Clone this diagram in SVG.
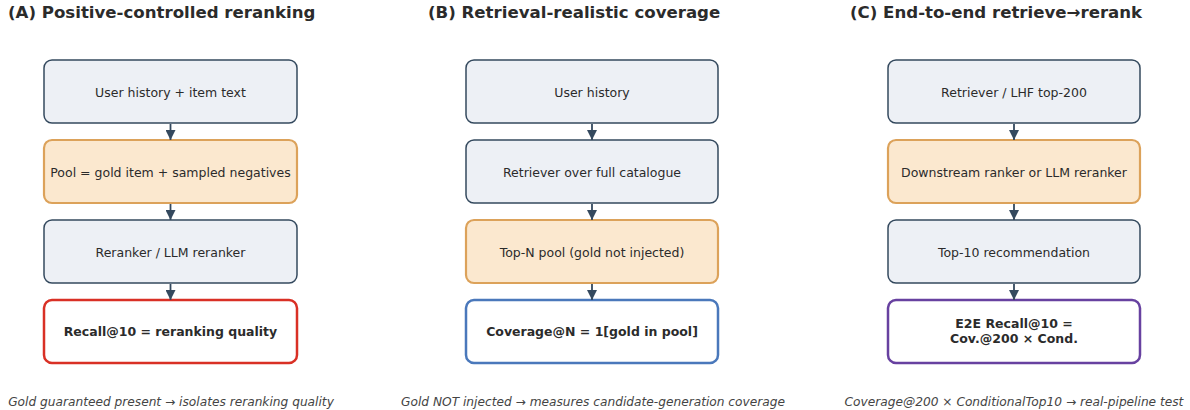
<svg xmlns="http://www.w3.org/2000/svg" width="1190" height="410" viewBox="0 0 1190 410">
<defs>
<marker id="ah" viewBox="0 0 10 10" refX="10" refY="5" markerWidth="10" markerHeight="10" markerUnits="userSpaceOnUse" orient="auto">
<path d="M0,0 L10,5 L0,10 z" fill="#34495e"/>
</marker>
</defs>
<style>
text{font-family:"DejaVu Sans","Liberation Sans",sans-serif;fill:#2b2b2b}
.title{font-size:16.6px;font-weight:bold}
.lbl{font-size:12.5px;text-anchor:middle;dominant-baseline:central}
.bold{font-size:12.5px;font-weight:bold;text-anchor:middle}
.cap{font-size:12.2px;font-style:italic;text-anchor:middle;fill:#444}
.n{fill:#edf0f5;stroke:#34495e;stroke-width:1.5}
.o{fill:#fbe8cf;stroke:#dca25a;stroke-width:2.2}
.r{fill:#fff;stroke:#d93025;stroke-width:2.5}
.b{fill:#fff;stroke:#4a78bb;stroke-width:2.5}
.p{fill:#fff;stroke:#6741a0;stroke-width:2.5}
.c{stroke:#34495e;stroke-width:1.8;fill:none}
</style>
<text class="title" x="8" y="18">(A) Positive-controlled reranking</text>
<text class="title" x="428" y="18">(B) Retrieval-realistic coverage</text>
<text class="title" x="850" y="18">(C) End-to-end retrieve→rerank</text>

<g id="a1"><rect class="n" x="44" y="60" width="253" height="63" rx="8"/><text class="lbl" x="170.5" y="92">User history + item text</text></g>
<g id="a2"><rect class="o" x="44" y="140" width="253" height="63" rx="8"/><text class="lbl" x="170.5" y="172">Pool = gold item + sampled negatives</text></g>
<g id="a3"><rect class="n" x="44" y="220" width="253" height="63" rx="8"/><text class="lbl" x="170.5" y="252">Reranker / LLM reranker</text></g>
<g id="a4"><rect class="r" x="44" y="300" width="253" height="63" rx="8"/><text class="bold" x="170.5" y="336">Recall@10 = reranking quality</text></g>

<g id="b1"><rect class="n" x="466" y="60" width="252" height="63" rx="8"/><text class="lbl" x="592" y="92">User history</text></g>
<g id="b2"><rect class="n" x="466" y="140" width="252" height="63" rx="8"/><text class="lbl" x="592" y="172">Retriever over full catalogue</text></g>
<g id="b3"><rect class="o" x="466" y="220" width="252" height="63" rx="8"/><text class="lbl" x="592" y="252">Top-N pool (gold not injected)</text></g>
<g id="b4"><rect class="b" x="466" y="300" width="252" height="63" rx="8"/><text class="bold" x="592" y="336">Coverage@N = 1[gold in pool]</text></g>

<g id="c1"><rect class="n" x="888" y="60" width="252" height="63" rx="8"/><text class="lbl" x="1014" y="92">Retriever / LHF top-200</text></g>
<g id="c2"><rect class="o" x="888" y="140" width="252" height="63" rx="8"/><text class="lbl" x="1014" y="172">Downstream ranker or LLM reranker</text></g>
<g id="c3"><rect class="n" x="888" y="220" width="252" height="63" rx="8"/><text class="lbl" x="1014" y="252">Top-10 recommendation</text></g>
<g id="c4"><rect class="p" x="888" y="300" width="252" height="63" rx="8"/><text class="bold" x="1014" y="328">E2E Recall@10 =</text><text class="bold" x="1014" y="343">Cov.@200 × Cond.</text></g>

<g id="connectors">
<line class="c" x1="170.5" y1="124" x2="170.5" y2="140" marker-end="url(#ah)"/>
<line class="c" x1="170.5" y1="204" x2="170.5" y2="220" marker-end="url(#ah)"/>
<line class="c" x1="170.5" y1="284" x2="170.5" y2="300" marker-end="url(#ah)"/>
<line class="c" x1="592" y1="124" x2="592" y2="140" marker-end="url(#ah)"/>
<line class="c" x1="592" y1="204" x2="592" y2="220" marker-end="url(#ah)"/>
<line class="c" x1="592" y1="284" x2="592" y2="300" marker-end="url(#ah)"/>
<line class="c" x1="1014" y1="124" x2="1014" y2="140" marker-end="url(#ah)"/>
<line class="c" x1="1014" y1="204" x2="1014" y2="220" marker-end="url(#ah)"/>
<line class="c" x1="1014" y1="284" x2="1014" y2="300" marker-end="url(#ah)"/>
</g>

<text class="cap" x="171" y="406">Gold guaranteed present → isolates reranking quality</text>
<text class="cap" x="593" y="406">Gold NOT injected → measures candidate-generation coverage</text>
<text class="cap" x="1014" y="406">Coverage@200 × ConditionalTop10 → real-pipeline test</text>
</svg>
